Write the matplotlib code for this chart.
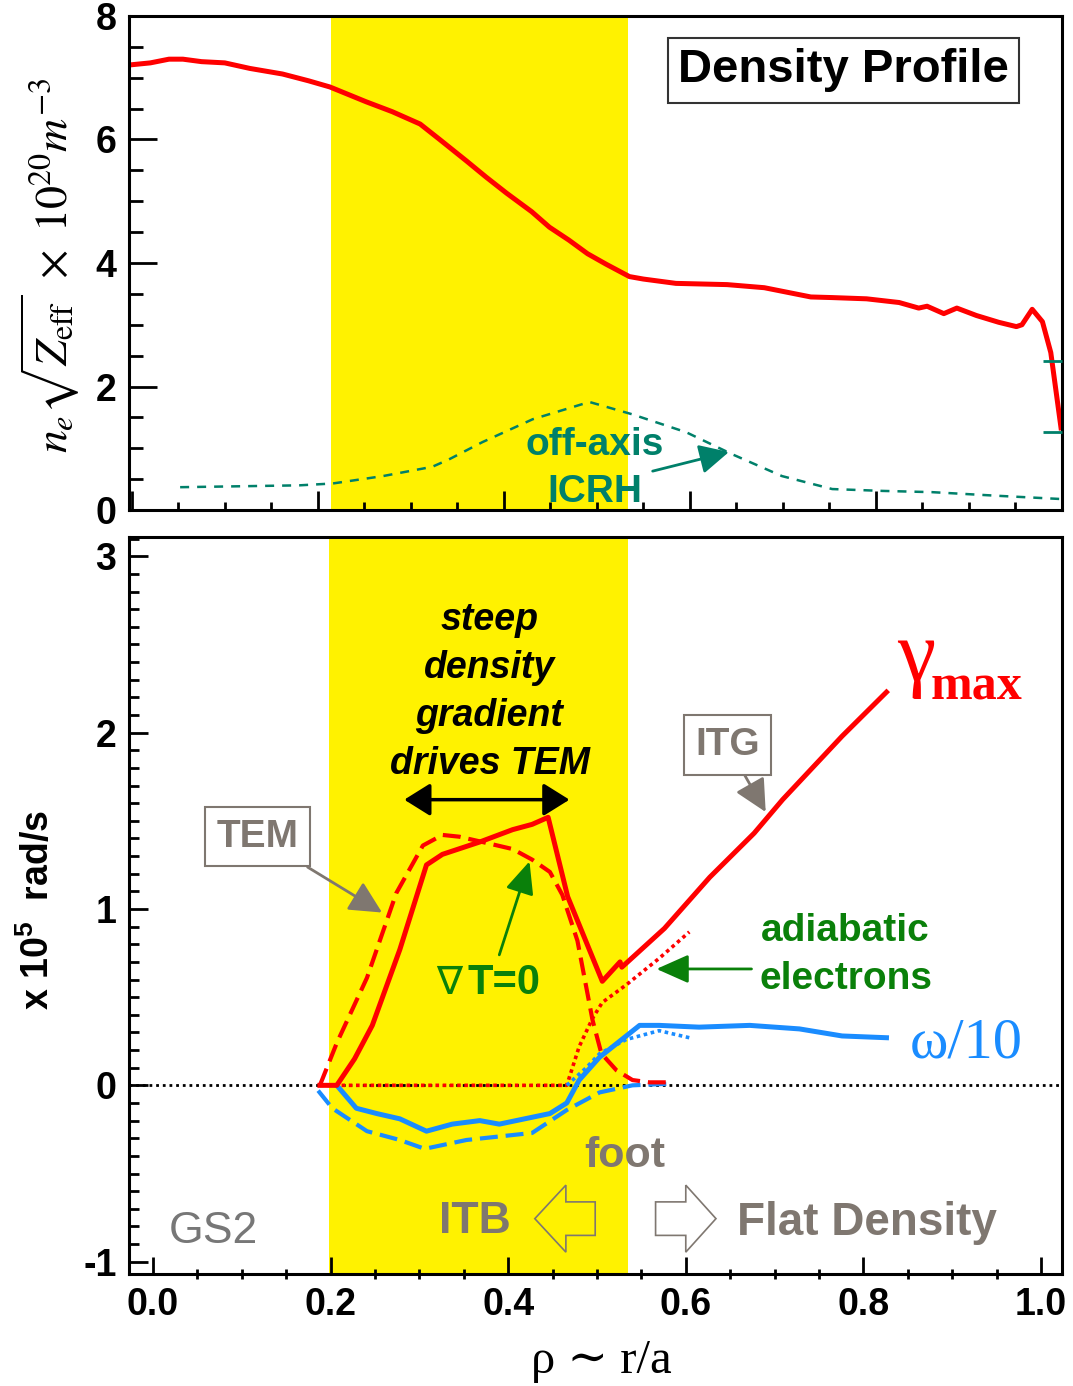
import matplotlib
matplotlib.use('Agg')
import matplotlib.pyplot as plt
import matplotlib.patches as mpatches
from matplotlib.ticker import MultipleLocator
import numpy as np

plt.rcParams['font.family'] = ['Liberation Sans', 'DejaVu Sans']
plt.rcParams['axes.unicode_minus'] = False
plt.rcParams['mathtext.fontset'] = 'custom'
plt.rcParams['mathtext.rm'] = 'Liberation Sans:bold'
plt.rcParams['mathtext.bf'] = 'Liberation Sans:bold'
plt.rcParams['mathtext.it'] = 'Liberation Sans:bold:italic'

RED = '#ff0000'
BLUE = '#1a8cff'
TEAL = '#00806a'
GREEN = '#0a800a'
GRAY = '#7f7770'
YELLOW = '#fff200'
SERIF = ['Liberation Serif', 'DejaVu Serif']

# ---- top panel: density profile
rho_ne = [0.0, 0.02, 0.04, 0.055, 0.075, 0.10, 0.127, 0.162, 0.19, 0.213, 0.252, 0.28,
          0.31, 0.331, 0.36, 0.381, 0.403, 0.43, 0.449, 0.47, 0.49, 0.51, 0.535, 0.55,
          0.585, 0.64, 0.68, 0.73, 0.753, 0.79, 0.825, 0.846, 0.855, 0.873, 0.887,
          0.908, 0.932, 0.951, 0.957, 0.968, 0.979, 0.988, 0.999]
ne_zeff = [7.21, 7.24, 7.30, 7.30, 7.26, 7.24, 7.15, 7.06, 6.95, 6.85, 6.61, 6.45,
           6.25, 6.0, 5.65, 5.39, 5.13, 4.83, 4.58, 4.37, 4.15, 3.98, 3.78, 3.74,
           3.67, 3.65, 3.60, 3.45, 3.44, 3.42, 3.36, 3.27, 3.30, 3.18, 3.27,
           3.15, 3.04, 2.97, 3.00, 3.25, 3.05, 2.55, 1.33]

rho_icrh = [0.052, 0.18, 0.216, 0.27, 0.323, 0.341, 0.377, 0.431, 0.492, 0.538,
            0.596, 0.646, 0.699, 0.753, 0.807, 0.86, 0.932, 0.997]
p_icrh = [0.37, 0.40, 0.43, 0.55, 0.70, 0.82, 1.10, 1.47, 1.75, 1.55,
          1.26, 0.90, 0.55, 0.34, 0.31, 0.29, 0.23, 0.18]
icrh_ticks = [1.26, 2.41]

# ---- bottom panel: GS2 growth rate / frequency
rho_g = [0.188, 0.207, 0.227, 0.247, 0.278, 0.308, 0.326, 0.368, 0.405, 0.427, 0.445,
         0.467, 0.506, 0.526, 0.528, 0.576, 0.627, 0.677, 0.709, 0.776, 0.826]
gamma = [0.0, 0.0, 0.15, 0.34, 0.77, 1.25, 1.31, 1.38, 1.45, 1.48, 1.52,
         1.07, 0.59, 0.70, 0.67, 0.89, 1.18, 1.43, 1.62, 1.98, 2.23]

rho_gT0 = [0.188, 0.207, 0.241, 0.274, 0.304, 0.326, 0.345, 0.371, 0.405, 0.427,
           0.447, 0.461, 0.478, 0.495, 0.505, 0.522, 0.540, 0.559, 0.582]
gamma_T0 = [0.0, 0.24, 0.61, 1.09, 1.36, 1.42, 1.41, 1.38, 1.34, 1.28,
            1.21, 1.08, 0.82, 0.37, 0.18, 0.085, 0.03, 0.017, 0.017]

rho_ad = [0.188, 0.466, 0.480, 0.495, 0.506, 0.533, 0.570, 0.604]
gamma_ad = [0.0, 0.0, 0.22, 0.38, 0.47, 0.57, 0.72, 0.87]

rho_w = [0.207, 0.229, 0.252, 0.278, 0.308, 0.337, 0.368, 0.390, 0.447, 0.466,
         0.480, 0.503, 0.548, 0.570, 0.615, 0.672, 0.728, 0.776, 0.826]
omega = [0.0, -0.13, -0.16, -0.19, -0.26, -0.22, -0.20, -0.22, -0.16, -0.10,
         0.03, 0.16, 0.34, 0.34, 0.33, 0.34, 0.32, 0.28, 0.27]

rho_wT0 = [0.186, 0.202, 0.241, 0.278, 0.306, 0.353, 0.427, 0.466, 0.503, 0.540, 0.585]
omega_T0 = [-0.03, -0.13, -0.26, -0.31, -0.36, -0.31, -0.27, -0.14, -0.04, 0.0, 0.01]

rho_wad = [0.466, 0.488, 0.503, 0.533, 0.570, 0.604]
omega_ad = [0.0, 0.10, 0.18, 0.26, 0.31, 0.27]

fig = plt.figure(figsize=(10.73, 13.86), dpi=100)
ax1 = fig.add_axes([0.1202, 0.632, 0.8695, 0.3565])
ax2 = fig.add_axes([0.1202, 0.0808, 0.8695, 0.5318])

for ax in (ax1, ax2):
    for s in ax.spines.values():
        s.set_linewidth(2.2)

# ---------------- top
ax1.axvspan(0.214, 0.534, color=YELLOW, lw=0, zorder=0)
ax1.plot(rho_icrh, p_icrh, color=TEAL, lw=1.8, dashes=(3.6, 3.2))
ax1.plot(rho_ne, ne_zeff, color=RED, lw=3.6, solid_joinstyle='round')
ax1.set_xlim(-0.003, 1.0)
ax1.set_ylim(0, 8)
ax1.set_yticks([0, 2, 4, 6, 8])
ax1.yaxis.set_minor_locator(MultipleLocator(0.5))
ax1.set_xticks(np.arange(0, 1.01, 0.2))
ax1.xaxis.set_minor_locator(MultipleLocator(0.05))
ax1.tick_params(axis='x', which='major', direction='in', length=14, width=2, labelbottom=False)
ax1.tick_params(axis='x', which='minor', direction='in', length=6, width=2)
ax1.tick_params(axis='y', which='major', direction='in', length=20, width=2, labelsize=27, pad=9)
ax1.tick_params(axis='y', which='minor', direction='in', length=10, width=2)

axr = ax1.twinx()
axr.set_ylim(ax1.get_ylim())
axr.set_yticks(icrh_ticks)
axr.tick_params(axis='y', direction='in', length=14, width=2, colors=TEAL, labelright=False)
for s in axr.spines.values():
    s.set_visible(False)

ax1.text(0.766, 0.89, 'Density Profile', transform=ax1.transAxes, ha='center', va='center',
         fontsize=34, weight='bold',
         bbox=dict(boxstyle='square,pad=0.22', fc='white', ec='#333333', lw=1.5))
ax1.text(0.498, 0.67, 'off-axis\nICRH', ha='center', va='center', color=TEAL, fontsize=28,
         weight='bold', linespacing=1.4)
ax1.annotate('', xy=(0.642, 0.94), xytext=(0.560, 0.63),
             arrowprops=dict(arrowstyle='-|>,head_length=0.9,head_width=0.45', color=TEAL,
                             lw=2, mutation_scale=20, shrinkA=0, shrinkB=0))

# ---------------- bottom
ax2.axvspan(0.198, 0.535, color=YELLOW, lw=0, zorder=0)
ax2.axhline(0, color='k', lw=2, dashes=(1, 1.4), zorder=1)
ax2.plot(rho_ad, gamma_ad, color=RED, lw=2.6, dashes=(1, 1), zorder=2)
ax2.plot(rho_wad, omega_ad, color=BLUE, lw=2.6, dashes=(1, 1), zorder=2)
ax2.plot(rho_wT0, omega_T0, color=BLUE, lw=3, dashes=(4.3, 1.9), zorder=3)
ax2.plot(rho_w, omega, color=BLUE, lw=3.6, zorder=3)
ax2.plot(rho_gT0, gamma_T0, color=RED, lw=3, dashes=(4.3, 1.9), zorder=4)
ax2.plot(rho_g, gamma, color=RED, lw=3.6, zorder=5)

ax2.set_xlim(-0.027, 1.0236)
ax2.set_ylim(-1.07, 3.11)
ax2.set_yticks([-1, 0, 1, 2, 3])
ax2.yaxis.set_minor_locator(MultipleLocator(0.1))
ax2.set_xticks(np.arange(0, 1.01, 0.2))
ax2.xaxis.set_minor_locator(MultipleLocator(0.05))
ax2.tick_params(axis='x', which='major', direction='in', length=12, width=2, labelsize=27, pad=9)
ax2.tick_params(axis='x', which='minor', direction='inout', length=7, width=2)
ax2.tick_params(axis='y', which='major', direction='in', length=14, width=2, labelsize=27, pad=9)
ax2.tick_params(axis='y', which='minor', direction='in', length=7, width=2)

for ax in (ax1, ax2):
    for lbl in ax.get_xticklabels() + ax.get_yticklabels():
        lbl.set_fontweight('bold')

ax2.text(0.379, 2.23, 'steep\ndensity\ngradient\ndrives TEM', ha='center', va='center',
         style='italic', weight='bold', fontsize=27, linespacing=1.42)
ax2.annotate('', xy=(0.283, 1.62), xytext=(0.469, 1.62),
             arrowprops=dict(arrowstyle='<|-|>,head_length=0.8,head_width=0.5', color='k',
                             lw=2.5, mutation_scale=20, shrinkA=0, shrinkB=0))

box = dict(boxstyle='square,pad=0.3', fc='white', ec=GRAY, lw=1.5)
gray_arrow = dict(arrowstyle='-|>,head_length=0.9,head_width=0.45', color=GRAY, lw=2,
                  mutation_scale=22, shrinkA=0, shrinkB=0)
ax2.annotate('TEM', xy=(0.258, 0.98), xytext=(0.118, 1.41), ha='center', va='center',
             fontsize=28, weight='bold', color=GRAY, bbox=box, arrowprops=gray_arrow)
ax2.annotate('ITG', xy=(0.690, 1.55), xytext=(0.647, 1.93), ha='center', va='center',
             fontsize=28, weight='bold', color=GRAY, bbox=box, arrowprops=gray_arrow)

ax2.text(0.333, 0.58, '\u2207', family=['DejaVu Sans'], fontsize=28,
         color=GREEN, ha='center', va='center')
ax2.text(0.395, 0.58, 'T=0', fontsize=30, weight='bold', color=GREEN, ha='center', va='center')
green_arrow = dict(arrowstyle='-|>,head_length=0.9,head_width=0.4', color=GREEN, lw=2,
                   mutation_scale=22, shrinkA=0, shrinkB=0)
ax2.annotate('', xy=(0.424, 1.27), xytext=(0.390, 0.74), arrowprops=green_arrow)
ax2.text(0.78, 0.74, 'adiabatic\nelectrons', ha='center', va='center', fontsize=28,
         weight='bold', color=GREEN, linespacing=1.44)
ax2.annotate('', xy=(0.567, 0.66), xytext=(0.674, 0.66), arrowprops=green_arrow)

ax2.text(0.859, 2.30, '\u03b3', family=SERIF, fontsize=62, color=RED,
         ha='center', va='baseline')
ax2.text(0.876, 2.19, 'max', family=SERIF, weight='bold', fontsize=36, color=RED,
         ha='left', va='baseline')
ax2.text(0.852, 0.16, '\u03c9/10', family=SERIF, fontsize=42, color=BLUE,
         ha='left', va='baseline')

ax2.text(0.531, -0.40, 'foot', ha='center', va='center', fontsize=31, weight='bold', color=GRAY)
ax2.text(0.363, -0.77, 'ITB', ha='center', va='center', fontsize=32, weight='bold', color=GRAY)
ax2.text(0.804, -0.78, 'Flat Density', ha='center', va='center', fontsize=33, weight='bold',
         color=GRAY)
ax2.text(0.068, -0.83, 'GS2', ha='center', va='center', fontsize=32, color='#777777')

ax2.add_patch(mpatches.FancyArrow(0.498, -0.756, -0.068, 0, width=0.19, head_width=0.38,
                                  head_length=0.035, length_includes_head=True,
                                  fc='none', ec=GRAY, lw=1.2))
ax2.add_patch(mpatches.FancyArrow(0.566, -0.756, 0.068, 0, width=0.19, head_width=0.38,
                                  head_length=0.034, length_includes_head=True,
                                  fc='none', ec=GRAY, lw=1.2))

# axis labels
fig.text(50 / 1073, 1 - 265 / 1386, r'$n_e\sqrt{Z_{\rm eff}}\ \times\ 10^{20}m^{-3}$',
         rotation=90, ha='center', va='center', fontsize=33, math_fontfamily='stix')
fig.text(38 / 1073, 1 - 910 / 1386, r'x 10$^{5}$  rad/s', rotation=90, ha='center',
         va='center', fontsize=27, weight='bold')
fig.text(601 / 1073, 1 - 1373 / 1386, '\u03c1 \u223c r/a', ha='center', va='baseline',
         fontsize=35, family=SERIF)

fig.savefig('out.png', dpi=100)
